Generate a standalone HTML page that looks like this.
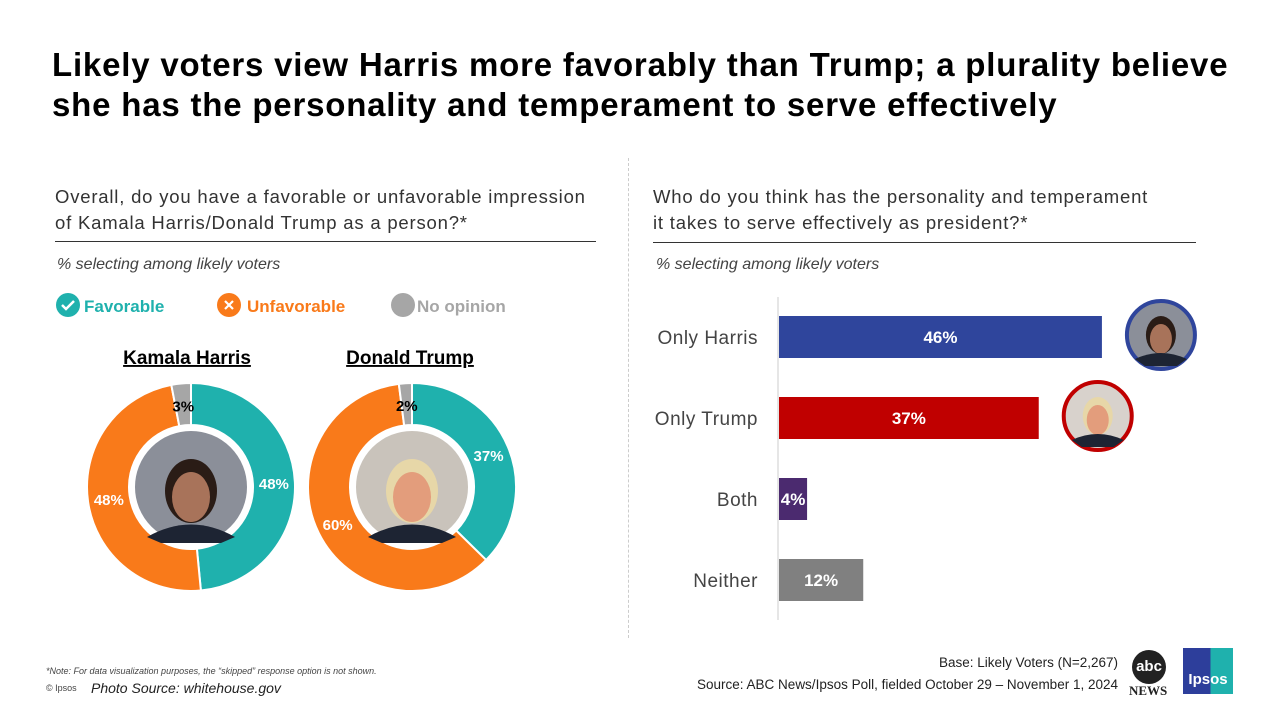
<!DOCTYPE html>
<html><head><meta charset="utf-8"><style>
body{margin:0;width:1280px;height:720px;background:#fff;font-family:"Liberation Sans",sans-serif;overflow:hidden;position:relative}
.a{position:absolute;white-space:nowrap}
</style></head><body>
<div class="a" style="left:52px;top:45px;font-size:33px;font-weight:bold;line-height:40px;color:#000;letter-spacing:0.8px">Likely voters view Harris more favorably than Trump; a plurality believe<br>she has the personality and temperament to serve effectively</div>
<div class="a" style="left:55px;top:184px;font-size:18.5px;line-height:26px;color:#333;letter-spacing:0.8px">Overall, do you have a favorable or unfavorable impression<br>of Kamala Harris/Donald Trump as a person?*</div>
<div class="a" style="left:55px;top:241px;width:541px;border-top:1px solid #333"></div>
<div class="a" style="left:57px;top:256px;font-size:16px;font-style:italic;color:#444">% selecting among likely voters</div>
<div class="a" style="left:653px;top:184px;font-size:18.5px;line-height:26px;color:#333;letter-spacing:0.8px">Who do you think has the personality and temperament<br>it takes to serve effectively as president?*</div>
<div class="a" style="left:653px;top:242px;width:543px;border-top:1px solid #333"></div>
<div class="a" style="left:656px;top:256px;font-size:16px;font-style:italic;color:#444">% selecting among likely voters</div>
<div class="a" style="left:628px;top:158px;height:480px;border-left:1px dashed #ccc"></div>

<svg class="a" style="left:0;top:0" width="1280" height="720" id="svg">
 <g font-weight="bold" font-size="17">
  <circle cx="68" cy="305" r="12" fill="#1fb1ad"/><path d="M62 305 l4 4 l8 -8" stroke="#fff" stroke-width="2.5" fill="none"/>
  <text x="84" y="312" fill="#1fb1ad">Favorable</text>
  <circle cx="229" cy="305" r="12" fill="#f97a1a"/><path d="M225 301 l8 8 M233 301 l-8 8" stroke="#fff" stroke-width="2.2"/>
  <text x="247" y="312" fill="#f97a1a">Unfavorable</text>
  <circle cx="403" cy="305" r="12" fill="#a6a6a6"/>
  <text x="417" y="312" fill="#a6a6a6">No opinion</text>
 </g>
 <text x="187" y="364" text-anchor="middle" font-size="19" font-weight="bold" text-decoration="underline">Kamala Harris</text>
 <text x="410" y="364" text-anchor="middle" font-size="19" font-weight="bold" text-decoration="underline">Donald Trump</text>
 <g id="donuts"></g>
 <g id="bars"></g>
</svg>

<div class="a" style="left:46px;top:666px;font-size:9px;font-style:italic;color:#444">*Note: For data visualization purposes, the “skipped” response option is not shown.</div>
<div class="a" style="left:46px;top:683px;font-size:9px;color:#444">© Ipsos</div>
<div class="a" style="left:91px;top:680px;font-size:14px;color:#222"><i>Photo Source: whitehouse.gov</i></div>
<div class="a" style="right:162px;top:655px;font-size:13.5px;color:#222">Base: Likely Voters (N=2,267)</div>
<div class="a" style="right:162px;top:677px;font-size:13.5px;color:#222">Source: ABC News/Ipsos Poll, fielded October 29 – November 1, 2024</div>
<div class="a" style="left:1132px;top:650px;width:34px;height:34px;border-radius:50%;background:#222;color:#fff;font-weight:bold;font-size:15px;text-align:center;line-height:33px">abc</div>
<div class="a" style="left:1129px;top:683px;font-family:'Liberation Serif',serif;font-size:13px;font-weight:bold;color:#222">NEWS</div>
<div class="a" style="left:1183px;top:648px;width:50px;height:46px;background:linear-gradient(90deg,#2d3e9b 55%,#1fb1ad 55%);color:#fff;font-weight:bold;font-size:15px;text-align:center;line-height:64px">Ipsos</div>

<script>
const donutNames=["harris","trump"];
const favorable=[48,37];
const unfavorable=[48,60];
const noOpinion=[3,2];
const barCategories=["Only Harris","Only Trump","Both","Neither"];
const barValues=[46,37,4,12];
const barColors=["#2f459c","#c00000","#4b2a6f","#808080"];

const NS="http://www.w3.org/2000/svg";
function mk(t,attrs,parent){const e=document.createElementNS(NS,t);for(const k in attrs)e.setAttribute(k,attrs[k]);parent.appendChild(e);return e;}
const dg=document.getElementById('donuts');
const centers=[[191,487],[412,487]];
const R=104,r=62;
function pt(cx,cy,rad,f){const a=f*2*Math.PI-Math.PI/2;return [cx+rad*Math.cos(a),cy+rad*Math.sin(a)];}
function arc(cx,cy,f0,f1){const l=(f1-f0)>0.5?1:0;const a=pt(cx,cy,R,f0),b=pt(cx,cy,R,f1),c=pt(cx,cy,r,f1),d=pt(cx,cy,r,f0);
 return `M${a[0]} ${a[1]}A${R} ${R} 0 ${l} 1 ${b[0]} ${b[1]}L${c[0]} ${c[1]}A${r} ${r} 0 ${l} 0 ${d[0]} ${d[1]}Z`;}
donutNames.forEach((n,i)=>{
 const [cx,cy]=centers[i];const vals=[favorable[i],unfavorable[i],noOpinion[i]];const tot=vals.reduce((a,b)=>a+b,0);
 const cols=["#1fb1ad","#f97a1a","#a6a6a6"];const tcol=["#fff","#fff","#000"];
 let f=0;
 vals.forEach((v,j)=>{const f1=f+v/tot;
  const p=mk('path',{d:arc(cx,cy,f,f1),fill:cols[j],stroke:'#fff','stroke-width':2},dg);
  
  
  const mid=(f+f1)/2;const lr=j==2?82:(R+r)/2;const q=pt(cx,cy,lr,mid);
  const t=mk('text',{x:q[0],y:q[1]+6,'text-anchor':'middle','font-size':15,'font-weight':'bold',fill:tcol[j]},dg);
  t.textContent=v+'%';
  
  
  f=f1;});
 const ph=mk('circle',{cx:cx,cy:cy,r:r-4,fill:i==0?'#8b8f99':'#c9c3bb',stroke:'#fff','stroke-width':4},dg);
 
 
 mk('ellipse',{cx:cx,cy:cy+4,rx:26,ry:32,fill:i==0?'#2a1c16':'#e7d7a8'},dg);
 mk('ellipse',{cx:cx,cy:cy+10,rx:19,ry:25,fill:i==0?'#a8735a':'#e39d7c'},dg);
 mk('path',{d:`M${cx-44} ${cy+50}Q${cx} ${cy+25} ${cx+44} ${cy+50}L${cx+30} ${cy+56}L${cx-30} ${cy+56}Z`,fill:'#1d2433'},dg);
});
const bg=document.getElementById('bars');
const x0=779,pxPer=7.02,rowY0=316,rowStep=81,bh=42;
const xs=v=>x0+v*pxPer;
mk('line',{x1:778,y1:297,x2:778,y2:620,stroke:'#ccc','stroke-width':1},bg);
barCategories.forEach((c,i)=>{
 const y=rowY0+i*rowStep;
 const b=mk('rect',{x:x0,y:y,width:xs(barValues[i])-x0,height:bh,fill:barColors[i]},bg);
 
 
 const t=mk('text',{x:(x0+xs(barValues[i]))/2,y:y+bh/2+6,'text-anchor':'middle','font-size':17,'font-weight':'bold',fill:'#fff'},bg);
 t.textContent=barValues[i]+'%';
 
 
 const l=mk('text',{x:758,y:y+bh/2+7,'text-anchor':'end','font-size':19,fill:'#444','letter-spacing':'0.5'},bg);
 l.textContent=c;
 
 
 if(i<2){const cx=xs(barValues[i])+59,cy=y+bh/2-2;
  const pc=mk('circle',{cx:cx,cy:cy,r:34,fill:i==0?'#8b8f99':'#d8d2cc',stroke:barColors[i],'stroke-width':4},bg);
  
  
  mk('ellipse',{cx:cx,cy:cy,rx:15,ry:19,fill:i==0?'#2a1c16':'#e7d7a8'},bg);
  mk('ellipse',{cx:cx,cy:cy+4,rx:11,ry:15,fill:i==0?'#a8735a':'#e39d7c'},bg);
  mk('path',{d:`M${cx-26} ${cy+24}Q${cx} ${cy+12} ${cx+26} ${cy+24}L${cx+16} ${cy+31}L${cx-16} ${cy+31}Z`,fill:'#1d2433'},bg);
 }
});
</script>
</body></html>
